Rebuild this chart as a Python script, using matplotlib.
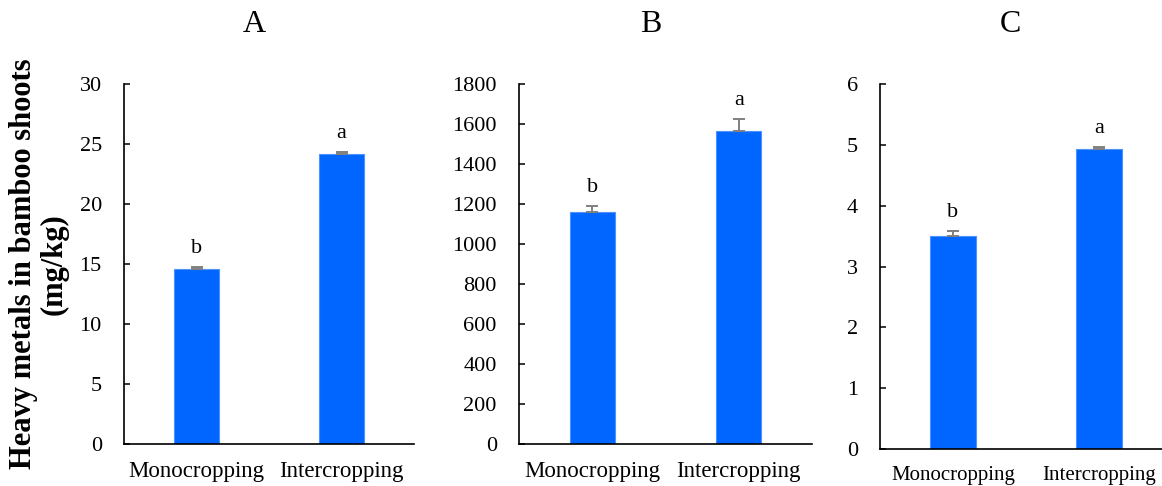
import matplotlib
matplotlib.use("Agg")
import matplotlib.pyplot as plt

plt.rcParams['font.family'] = ['Liberation Serif', 'DejaVu Serif']

# Data
groups = ['Monocropping', 'Intercropping']
panels = ['A', 'B', 'C']
means_a = [14.6, 24.15]
errs_a = [0.18, 0.2]
means_b = [1160, 1567]
errs_b = [32, 60]
means_c = [3.50, 4.93]
errs_c = [0.09, 0.04]
letters = ['b', 'a']

means = [means_a, means_b, means_c]
errs = [errs_a, errs_b, errs_c]
ylims = [(0, 30), (0, 1800), (0, 6)]
ysteps = [5, 200, 1]

fig = plt.figure(figsize=(11.62, 4.86), dpi=100)
W, H = 1162, 486
# axes boxes in pixels: left, top, right, bottom
boxes = [(124, 84, 414, 444), (519, 84, 812, 444), (880, 84, 1172, 449)]
xlab_size = [16.5, 16.5, 15]

for i, (l, t, r, b) in enumerate(boxes):
    ax = fig.add_axes([l / W, 1 - b / H, (r - l) / W, (b - t) / H])
    x = range(len(groups))
    ax.bar(x, means[i], width=0.31, color='#0066FF', edgecolor='#4a94ff', linewidth=0.8, zorder=2)
    ax.errorbar(x, means[i], yerr=[[0, 0], errs[i]], fmt='none', ecolor='#808080',
                elinewidth=1.4, capsize=4.5, capthick=1.4, zorder=3)
    for xi, m, e, let in zip(x, means[i], errs[i], letters):
        ax.annotate(let, (xi, m + e), xytext=(0, 13), textcoords='offset points',
                    ha='center', va='center', fontsize=16)
    ax.set_xlim(-0.5, 1.5)
    ax.set_ylim(*ylims[i])
    lo, hi = ylims[i]
    ax.set_yticks([lo + k * ysteps[i] for k in range(int((hi - lo) / ysteps[i]) + 1)])
    ax.set_xticks(list(x))
    ax.set_xticklabels(groups, fontsize=xlab_size[i])
    ax.tick_params(axis='x', length=0, pad=12)
    ax.tick_params(axis='y', direction='in', length=4.5, width=1.1, labelsize=16, pad=16)
    for s in ['top', 'right']:
        ax.spines[s].set_visible(False)
    for s in ['left', 'bottom']:
        ax.spines[s].set_linewidth(1.2)
    ax.text(0.448, 1 + 59 / (b - t), panels[i], transform=ax.transAxes,
            ha='center', va='center', fontsize=23)
    if i == 0:
        ax.set_ylabel('Heavy metals in bamboo shoots\n(mg/kg)', fontsize=22,
                      fontweight='bold', labelpad=8, linespacing=1.05)

fig.savefig('out.png', dpi=100)
